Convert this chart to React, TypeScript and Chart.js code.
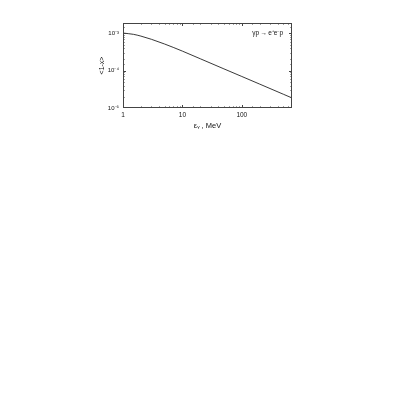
import React, { useEffect, useRef } from "react";
import { Chart, registerables } from "chart.js";
Chart.register(...registerables);

const energies = [1, 1.5, 2, 3, 5, 7, 10, 20, 50, 100, 200, 500, 700];
const meanOneMinusX = [1.02e-3, 9.44e-4, 8.46e-4, 6.96e-4, 5.2e-4, 4.22e-4, 3.35e-4, 2.09e-4, 1.12e-4, 7.0e-5, 4.37e-5, 2.34e-5, 1.86e-5];
const xTickLabels = [1, 10, 100];
const yTickLabels = [1e-5, 1e-4, 1e-3];
const supers: Record<string, string> = { "-": "⁻", "0": "⁰", "1": "¹", "2": "²", "3": "³", "4": "⁴", "5": "⁵", "6": "⁶", "7": "⁷", "8": "⁸", "9": "⁹" };
const reactionLabel = "γp\u2009→\u2009e⁺e⁻p";
const FONT = "'Liberation Sans', Arial, sans-serif";

function expLabel(v: number) {
  const e = Math.round(Math.log10(v));
  return "10" + String(e).split("").map((c) => supers[c] || c).join("");
}

const framePlugin = {
  id: "frame",
  afterDraw(chart: any) {
    const { ctx, chartArea: a, scales } = chart;
    ctx.save();
    ctx.strokeStyle = "#444";
    ctx.lineWidth = 1;
    ctx.strokeRect(a.left + 0.5, a.top + 0.5, a.right - a.left - 1, a.bottom - a.top - 1);
    const xs = scales.x, ys = scales.y;
    ctx.beginPath();
    xs.ticks.forEach((t: any) => {
      const v = t.value;
      const major = Math.abs(Math.log10(v) - Math.round(Math.log10(v))) < 1e-6;
      const len = major ? 3 : 1.5;
      const p = Math.round(xs.getPixelForValue(v)) + 0.5;
      if (p < a.left || p > a.right) return;
      ctx.moveTo(p, a.bottom); ctx.lineTo(p, a.bottom - len);
      ctx.moveTo(p, a.top); ctx.lineTo(p, a.top + len);
    });
    ys.ticks.forEach((t: any) => {
      const v = t.value;
      const major = Math.abs(Math.log10(v) - Math.round(Math.log10(v))) < 1e-6;
      const len = major ? 3 : 1.5;
      const p = Math.round(ys.getPixelForValue(v)) + 0.5;
      if (p < a.top || p > a.bottom) return;
      ctx.moveTo(a.left, p); ctx.lineTo(a.left + len, p);
      ctx.moveTo(a.right, p); ctx.lineTo(a.right - len, p);
    });
    ctx.stroke();
    ctx.fillStyle = "#111";
    ctx.font = "6.5px " + FONT;
    ctx.textBaseline = "middle";
    ctx.fillText(reactionLabel, xs.getPixelForValue(150), ys.getPixelForValue(1e-3));
    ctx.restore();
  },
};

export default function App() {
  const ref = useRef<HTMLCanvasElement>(null);
  useEffect(() => {
    const chart = new Chart(ref.current!, {
      type: "line",
      data: {
        datasets: [
          {
            data: energies.map((e, i) => ({ x: e, y: meanOneMinusX[i] })),
            borderColor: "#222",
            borderWidth: 0.9,
            pointRadius: 0,
            cubicInterpolationMode: "monotone",
            fill: false,
          },
        ],
      },
      options: {
        animation: false,
        responsive: false,
        devicePixelRatio: 1,
        plugins: { legend: { display: false }, tooltip: { enabled: false } },
        layout: { padding: { left: 98, right: 128, top: 23, bottom: 290 } },
        scales: {
          x: {
            type: "logarithmic",
            min: 1,
            max: 700,
            grid: { display: false, drawTicks: false, tickLength: 0 },
            border: { display: false },
            afterFit: (s: any) => { s.height = 22; },
            ticks: {
              autoSkip: false,
              maxRotation: 0,
              padding: 3,
              color: "#111",
              font: { size: 6.5, family: FONT },
              callback: (v: any) => (xTickLabels.includes(Number(v)) ? String(v) : ""),
            },
            title: { display: true, text: "εᵧ , MeV", color: "#111", font: { size: 7.5, family: FONT }, padding: { top: 2, bottom: 0 } },
          },
          y: {
            type: "logarithmic",
            min: 1e-5,
            max: 1.9e-3,
            grid: { display: false, drawTicks: false, tickLength: 0 },
            border: { display: false },
            afterFit: (s: any) => { s.width = 25; },
            ticks: {
              autoSkip: false,
              padding: 4,
              color: "#111",
              font: { size: 6, family: FONT },
              callback: (v: any) => (yTickLabels.some((t) => Math.abs(t - Number(v)) / t < 1e-6) ? expLabel(Number(v)) : ""),
            },
            title: { display: true, text: "<1-x>", color: "#111", font: { size: 7, family: FONT }, padding: 0 },
          },
        },
      },
      plugins: [framePlugin],
    } as any);
    return () => chart.destroy();
  }, []);
  return (
    <div style={{ position: "fixed", left: 0, top: 0, width: 420, height: 420, background: "#fff" }}>
      <canvas ref={ref} width={420} height={420} style={{ width: 420, height: 420 }} />
    </div>
  );
}
